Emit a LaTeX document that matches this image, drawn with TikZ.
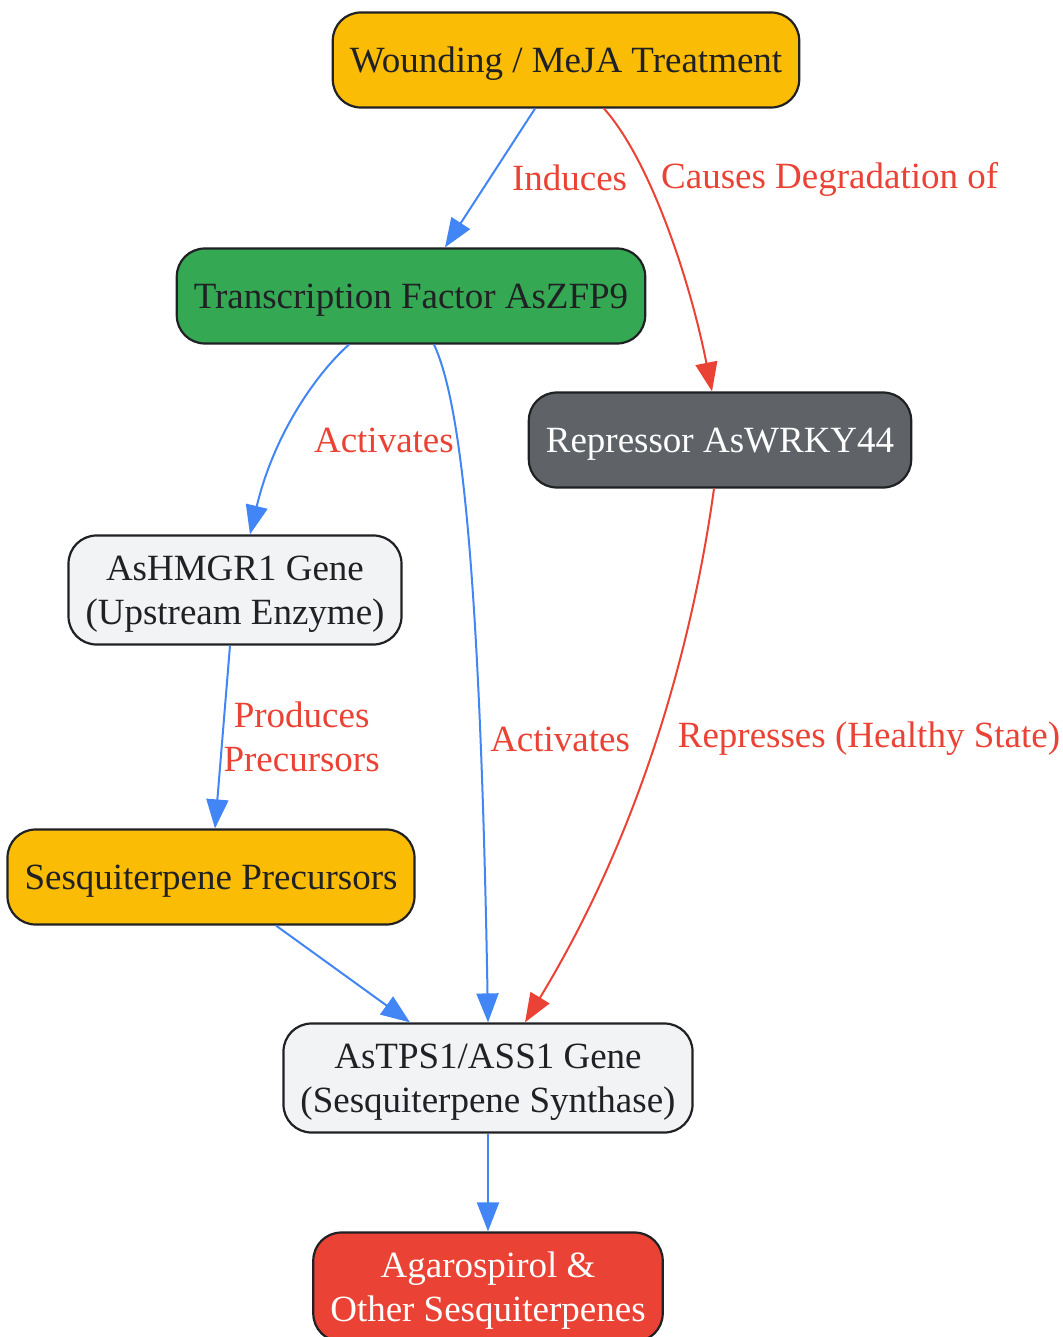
\documentclass[tikz,border=0pt]{standalone}
\usepackage{fontspec}
\setmainfont{Liberation Serif}
\usepackage{tikz}
\usetikzlibrary{positioning,arrows.meta}
\definecolor{gyellow}{HTML}{FBBC05}
\definecolor{ggreen}{HTML}{34A853}
\definecolor{ggrey}{HTML}{5F6368}
\definecolor{glight}{HTML}{F1F3F4}
\definecolor{gred}{HTML}{EA4335}
\definecolor{gblue}{HTML}{4285F4}
\definecolor{gdark}{HTML}{202124}

\begin{document}
\begin{tikzpicture}[x=1pt, y=-1pt,
        font=\fontsize{37}{44}\selectfont,
        box/.style={rectangle, rounded corners=28pt, draw=gdark, line width=2.2pt, text=gdark,
            align=center, minimum height=95pt, inner xsep=17pt, inner ysep=12pt, text depth=0pt},
        twoline/.style={box, minimum height=109pt},
        blueedge/.style={draw=gblue, line width=2pt, -{Triangle[length=29pt,width=22pt]}},
        rededge/.style={draw=gred, line width=2pt, -{Triangle[length=29pt,width=22pt]}},
        lbl/.style={text=gred, inner sep=0pt, anchor=west}]
        \useasboundingbox (0,0) rectangle (1062,1337);

        \node[box, fill=gyellow] (wound) at (566,60) {Wounding / MeJA Treatment};
        \node[box, fill=ggreen] (tf) at (411,296) {Transcription Factor AsZFP9};
        \node[box, fill=ggrey, text=white] (rep) at (720,440) {Repressor AsWRKY44};
        \node[twoline, fill=glight] (hmgr) at (235,590) {AsHMGR1 Gene\\(Upstream Enzyme)};
        \node[box, fill=gyellow] (prec) at (211,877) {Sesquiterpene Precursors};
        \node[twoline, fill=glight] (tps) at (488,1078) {AsTPS1/ASS1 Gene\\(Sesquiterpene Synthase)};
        \node[twoline, fill=gred, text=white] (agar) at (488,1287) {Agarospirol \&\\Other Sesquiterpenes};

        \draw[blueedge] ([xshift=-31pt]wound.south) -- ([xshift=34pt]tf.north)
            node[lbl, midway, xshift=21pt] {Induces};
        \draw[rededge] ([xshift=38pt]wound.south) .. controls (650,160) and (690,280) .. ([xshift=-8pt]rep.north)
            node[lbl, pos=0.33, xshift=13pt] {Causes Degradation of};
        \draw[blueedge] ([xshift=-62pt]tf.south) .. controls (320,370) and (275,430) .. ([xshift=15pt]hmgr.north)
            node[lbl, pos=0.65, xshift=31pt] {Activates};
        \draw[blueedge] ([xshift=23pt]tf.south) .. controls (460,400) and (480,560) .. (tps.north)
            node[lbl, pos=0.76, xshift=9pt] {Activates};
        \draw[rededge] ([xshift=-6pt]rep.south) .. controls (700,590) and (660,800) .. ([xshift=37pt]tps.north)
            node[lbl, pos=0.55, xshift=21pt] {Represses (Healthy State)};
        \draw[blueedge] ([xshift=-5pt]hmgr.south) -- ([xshift=4pt]prec.north)
            node[lbl, midway, xshift=0pt, align=center] {Produces\\Precursors};
        \draw[blueedge] ([xshift=65pt]prec.south) -- ([xshift=-78pt]tps.north);
        \draw[blueedge] (tps.south) -- (agar.north);
    \end{tikzpicture}
\end{document}
